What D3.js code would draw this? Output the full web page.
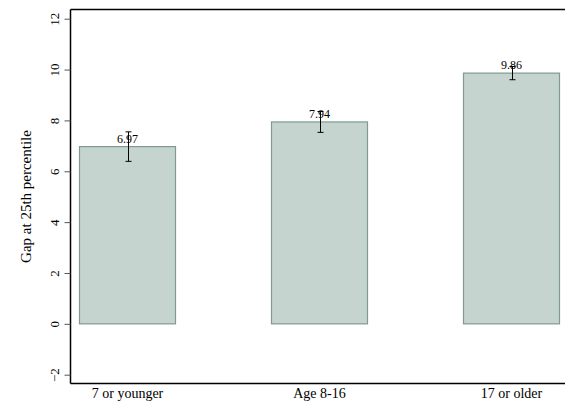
<!DOCTYPE html>
<html><head><meta charset="utf-8">
<script src="https://cdn.jsdelivr.net/npm/d3@7"></script>
<style>body{margin:0;background:#fff}svg{display:block}</style>
</head><body>
<svg id="c" width="565" height="402"></svg>
<script>
const categories = ["7 or younger", "Age 8-16", "17 or older"];
const values = [6.97, 7.94, 9.86];
const ciLow = [6.39, 7.53, 9.60];
const ciHigh = [7.55, 8.35, 10.12];
const yTicks = [-2, 0, 2, 4, 6, 8, 10, 12];
const yTitle = "Gap at 25th percentile";

const svg = d3.select("#c");
const font = "'Liberation Serif','Times New Roman',serif";
const mLeft = 70.5, mTop = 9.5, mBottom = 383.5, mRight = 565;

const y = d3.scaleLinear().domain([-2, 12]).range([374.7, 18.7]);
const x = d3.scaleBand().domain(categories).range([79, 560]).paddingInner(95/192).paddingOuter(0);

// bars
svg.append("g").selectAll("rect").data(values).join("rect")
  .attr("x", (d,i) => x(categories[i]) + 0.5)
  .attr("y", d => y(d))
  .attr("width", x.bandwidth() - 1)
  .attr("height", d => y(0) - y(d))
  .attr("fill", "#c6d4cf")
  .attr("stroke", "#7e9a91")
  .attr("stroke-width", 1.2);

// error bars
const eb = svg.append("g").attr("stroke", "#000").attr("stroke-width", 1);
values.forEach((v, i) => {
  const cx = Math.round(x(categories[i]) + x.bandwidth()/2) + 0.5;
  eb.append("line").attr("x1", cx).attr("x2", cx).attr("y1", y(ciLow[i])).attr("y2", y(ciHigh[i]));
  eb.append("line").attr("x1", cx-3).attr("x2", cx+3).attr("y1", y(ciLow[i])).attr("y2", y(ciLow[i]));
  eb.append("line").attr("x1", cx-3).attr("x2", cx+3).attr("y1", y(ciHigh[i])).attr("y2", y(ciHigh[i]));
});

// value labels
svg.append("g").selectAll("text").data(values).join("text")
  .attr("x", (d,i) => x(categories[i]) + x.bandwidth()/2)
  .attr("y", d => y(d) - 4)
  .attr("text-anchor", "middle")
  .attr("font-family", font).attr("font-size", 12)
  .attr("fill", "#000")
  .text(d => d.toFixed(2));

// frame lines
svg.append("line").attr("x1", mLeft).attr("x2", mRight).attr("y1", mTop).attr("y2", mTop).attr("stroke", "#000").attr("stroke-width", 1.5);
svg.append("line").attr("x1", mLeft).attr("x2", mRight).attr("y1", mBottom).attr("y2", mBottom).attr("stroke", "#000").attr("stroke-width", 1.5);

// y axis
const yAxis = d3.axisLeft(y).tickValues(yTicks).tickSize(6).tickPadding(4).tickFormat(d3.format("d"));
const gy = svg.append("g").attr("transform", `translate(${mLeft},0)`).call(yAxis);
gy.select(".domain").attr("d", `M0,${mTop}V${mBottom}`).attr("stroke", "#000").attr("stroke-width", 1.5);
gy.selectAll(".tick line").attr("stroke", "#555");
gy.selectAll(".tick text")
  .attr("font-family", font).attr("font-size", 13).attr("fill", "#000")
  .attr("transform", "rotate(-90)")
  .attr("x", 0).attr("y", -12).attr("dy", "0")
  .attr("text-anchor", "middle");

// y title
svg.append("text")
  .attr("transform", `translate(31,${(mTop+mBottom)/2}) rotate(-90)`)
  .attr("text-anchor", "middle")
  .attr("font-family", font).attr("font-size", 15).attr("fill", "#000")
  .text(yTitle);

// x labels
const xAxis = d3.axisBottom(x).tickSize(0).tickPadding(0);
const gx = svg.append("g").attr("transform", `translate(0,${mBottom})`).call(xAxis);
gx.select(".domain").remove();
gx.selectAll(".tick text").attr("font-family", font).attr("font-size", 14).attr("fill", "#000").attr("dy", "0").attr("y", 14);
</script>
</body></html>
